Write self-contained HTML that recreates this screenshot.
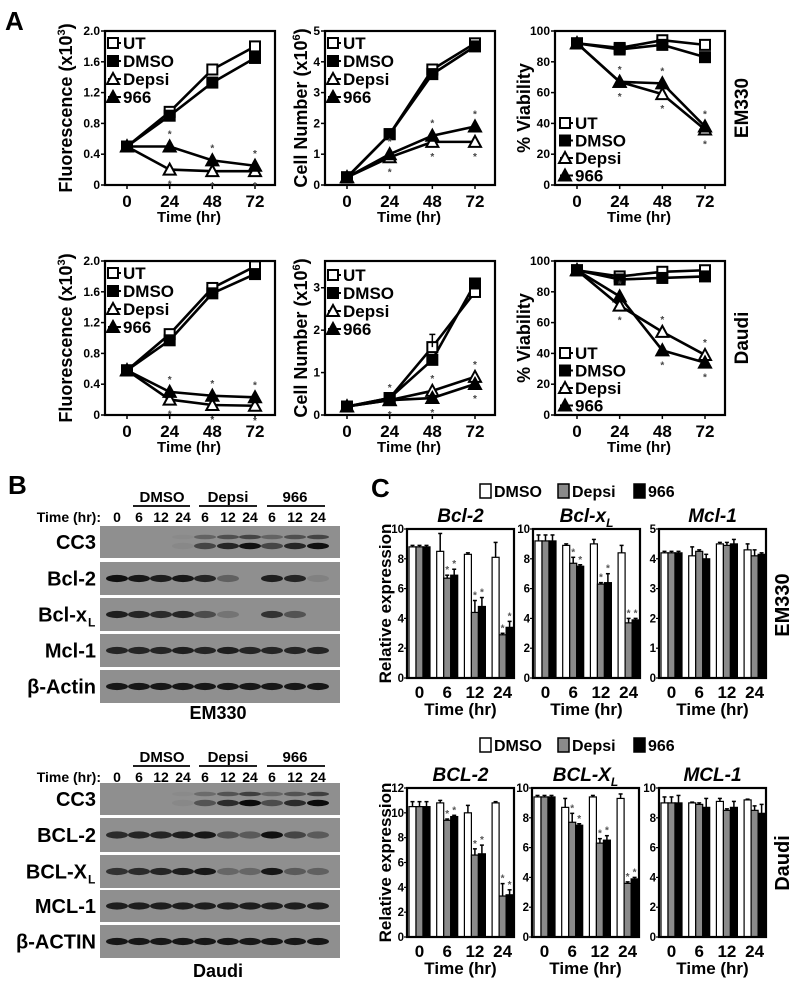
<!DOCTYPE html>
<html><head><meta charset="utf-8"><style>
body{margin:0;background:#fff}
svg{display:block;font-family:"Liberation Sans",Arial,sans-serif;font-weight:bold}
</style></head><body>
<svg id="fig" width="800" height="987" viewBox="0 0 800 987" xmlns="http://www.w3.org/2000/svg">
<text x="5" y="30" font-size="26">A</text>
<text x="8" y="494" font-size="26">B</text>
<text x="371" y="497" font-size="26">C</text>
</svg>
<script>
// ---------- Panel A data ----------
const timeHours = [0, 24, 48, 72];
const seriesNames = ["UT", "DMSO", "Depsi", "966"];
// EM330
const fluoEM_UT = [0.5, 0.95, 1.5, 1.8];
const fluoEM_DMSO = [0.5, 0.9, 1.33, 1.65];
const fluoEM_Depsi = [0.5, 0.2, 0.18, 0.18];
const fluoEM_966 = [0.5, 0.5, 0.32, 0.25];
const cellEM_UT = [0.25, 1.65, 3.75, 4.6];
const cellEM_DMSO = [0.25, 1.65, 3.6, 4.5];
const cellEM_Depsi = [0.25, 0.9, 1.4, 1.4];
const cellEM_966 = [0.25, 1.0, 1.6, 1.9];
const viaEM_UT = [92, 89, 94, 91];
const viaEM_DMSO = [92, 88, 91, 83];
const viaEM_Depsi = [92, 67, 59, 36];
const viaEM_966 = [92, 67, 66, 38];
// Daudi
const fluoDA_UT = [0.58, 1.05, 1.65, 1.93];
const fluoDA_DMSO = [0.58, 0.97, 1.58, 1.83];
const fluoDA_Depsi = [0.58, 0.2, 0.13, 0.12];
const fluoDA_966 = [0.58, 0.3, 0.25, 0.23];
const cellDA_UT = [0.2, 0.4, 1.6, 2.9];
const cellDA_DMSO = [0.2, 0.4, 1.3, 3.1];
const cellDA_Depsi = [0.2, 0.35, 0.57, 0.9];
const cellDA_966 = [0.2, 0.35, 0.4, 0.73];
const viaDA_UT = [94, 90, 93, 94];
const viaDA_DMSO = [94, 88, 89, 90];
const viaDA_Depsi = [94, 71, 54, 39];
const viaDA_966 = [94, 77, 42, 34];
const fluoTicks = [0, 0.4, 0.8, 1.2, 1.6, 2.0];
const fluoTickLabels = ["0", "0.4", "0.8", "1.2", "1.6", "2.0"];
const cellEMTicks = [0, 1, 2, 3, 4, 5];
const cellDATicks = [0, 1, 2, 3];
const viaTicks = [0, 20, 40, 60, 80, 100];

// ---------- Panel B data (band intensity 0-1 per lane) ----------
const laneLabels = ["0", "6", "12", "24", "6", "12", "24", "6", "12", "24"];
const emCC3 = [0, 0, 0, 0.05, 0.55, 0.8, 0.95, 0.55, 0.8, 0.95];
const emBcl2 = [0.95, 0.9, 0.85, 0.9, 0.8, 0.35, 0, 0.85, 0.8, 0.1];
const emBclxl = [0.85, 0.8, 0.75, 0.8, 0.5, 0.2, 0, 0.7, 0.45, 0];
const emMcl1 = [0.8, 0.8, 0.8, 0.85, 0.8, 0.85, 0.8, 0.8, 0.8, 0.8];
const emActin = [0.9, 0.9, 0.9, 0.9, 0.9, 0.9, 0.9, 0.9, 0.9, 0.9];
const daCC3 = [0, 0, 0, 0.05, 0.45, 0.75, 1, 0.5, 0.75, 1];
const daBcl2 = [0.75, 0.8, 0.8, 0.85, 0.9, 0.5, 0.4, 0.95, 0.55, 0.4];
const daBclxl = [0.7, 0.75, 0.8, 0.85, 0.9, 0.3, 0.3, 0.9, 0.4, 0.35];
const daMcl1 = [0.85, 0.85, 0.85, 0.85, 0.85, 0.85, 0.85, 0.85, 0.85, 0.85];
const daActin = [0.9, 0.9, 0.9, 0.9, 0.9, 0.9, 0.9, 0.9, 0.9, 0.9];

// ---------- Panel C data ----------
const barTimes = ["0", "6", "12", "24"];
const bcl2EM_DMSO = [8.8, 8.5, 8.3, 8.1], bcl2EM_Depsi = [8.8, 6.7, 4.4, 2.9], bcl2EM_966 = [8.8, 6.9, 4.8, 3.4];
const bcl2EM_err = [[0.1, 0.1, 0.1], [1.2, 0.2, 0.4], [0.1, 0.8, 0.6], [1.0, 0.1, 0.4]];
const bclxEM_DMSO = [9.2, 8.9, 9.0, 8.4], bclxEM_Depsi = [9.2, 7.7, 6.3, 3.7], bclxEM_966 = [9.2, 7.5, 6.4, 3.9];
const bclxEM_err = [[0.4, 0.4, 0.4], [0.1, 0.4, 0.1], [0.3, 0.1, 0.6], [0.5, 0.3, 0.1]];
const mclEM_DMSO = [4.2, 4.1, 4.5, 4.3], mclEM_Depsi = [4.2, 4.25, 4.45, 4.1], mclEM_966 = [4.2, 4.0, 4.5, 4.15];
const mclEM_err = [[0.05, 0.05, 0.05], [0.3, 0.05, 0.15], [0.05, 0.1, 0.15], [0.2, 0.2, 0.05]];
const bcl2DA_DMSO = [10.5, 10.8, 10.0, 10.8], bcl2DA_Depsi = [10.5, 9.4, 6.6, 3.3], bcl2DA_966 = [10.5, 9.7, 6.7, 3.4];
const bcl2DA_err = [[0.4, 0.4, 0.4], [0.2, 0.1, 0.1], [0.6, 0.5, 0.7], [0.1, 1.0, 0.4]];
const bclxDA_DMSO = [9.4, 8.7, 9.4, 9.3], bclxDA_Depsi = [9.4, 7.7, 6.3, 3.6], bclxDA_966 = [9.4, 7.5, 6.5, 3.9];
const bclxDA_err = [[0.1, 0.1, 0.1], [0.6, 0.6, 0.1], [0.1, 0.3, 0.3], [0.3, 0.1, 0.1]];
const mclDA_DMSO = [9.0, 9.0, 9.1, 9.2], mclDA_Depsi = [9.0, 8.9, 8.5, 8.5], mclDA_966 = [9.0, 8.7, 8.7, 8.3];
const mclDA_err = [[0.4, 0.4, 0.5], [0.05, 0.1, 0.6], [0.2, 0.1, 0.4], [0.05, 0.3, 0.6]];
const sigEM_bcl2 = [false, true, true, true], sigEM_bclx = [false, true, true, true];
const sigDA_bcl2 = [false, true, true, true], sigDA_bclx = [false, true, true, true];

const NS = "http://www.w3.org/2000/svg";
const svg = document.getElementById("fig");
function mk(tag, attrs, parent, txt) {
  const e = document.createElementNS(NS, tag);
  for (const k in attrs) e.setAttribute(k, attrs[k]);
  if (txt !== undefined) e.textContent = txt;
  (parent || svg).appendChild(e);
  return e;
}

// ---------- line charts ----------
function marker(g, kind, x, y) {
  let m;
  if (kind === 0 || kind === 1) {
    m = mk("rect", {x: x - 5, y: y - 5, width: 10, height: 10, fill: kind ? "#000" : "#fff", stroke: "#000", "stroke-width": 2}, g);
  } else {
    m = mk("polygon", {points: `${x},${y - 6} ${x + 6},${y + 5} ${x - 6},${y + 5}`, fill: kind === 3 ? "#000" : "#fff", stroke: "#000", "stroke-width": 2}, g);
  }
  
  
}
function legendEntry(g, kind, x, y) {
  const lg = mk("g", {}, g);
  
  
  mk("line", {x1: x - 3, y1: y, x2: x + 10, y2: y, stroke: "#000", "stroke-width": 2}, lg);
  marker(lg, kind, x + 2, y);
  mk("text", {x: x + 12, y: y + 6, "font-size": 17}, lg, seriesNames[kind]);
}
function lineChart(name, L, T, yMax, ticks, tickLabels, series, title, titleSup, titleX, legX, legY, legStep) {
  const R = L + 170, B = T + 154;
  const g = mk("g", {});
  
  
  const xs = t => L + 22 + t / 72 * 128;
  const ys = v => B - v / yMax * (B - T);
  const box = mk("rect", {x: L, y: T, width: 170, height: 154, fill: "none", stroke: "#000", "stroke-width": 2.2}, g);
  
  
  ticks.forEach((v, i) => {
    mk("line", {x1: L - 4, y1: ys(v), x2: L, y2: ys(v), stroke: "#000", "stroke-width": 1.5}, g);
    const t = mk("text", {x: L - 5, y: ys(v) + 4, "font-size": 12, "text-anchor": "end"}, g, tickLabels[i]);
    
    
  });
  timeHours.forEach(t => {
    mk("line", {x1: xs(t), y1: B, x2: xs(t), y2: B + 4, stroke: "#000", "stroke-width": 1.5}, g);
    const tx = mk("text", {x: xs(t), y: B + 22, "font-size": 17, "text-anchor": "middle"}, g, String(t));
    
    
  });
  const xt = mk("text", {x: L + 84, y: B + 37, "font-size": 15, "text-anchor": "middle"}, g, "Time (hr)");
  
  
  const yt = mk("text", {x: 0, y: 0, "font-size": 18, "text-anchor": "middle", transform: `translate(${titleX},${(T + B) / 2}) rotate(-90)`}, g);
  
  
  yt.appendChild(document.createTextNode(title));
  if (titleSup) {
    yt.appendChild(document.createTextNode(" (x10"));
    mk("tspan", {"font-size": 11, dy: -7}, yt, titleSup);
    mk("tspan", {dy: 7}, yt, ")");
  }
  series.forEach((vals, k) => {
    const pts = vals.map((v, i) => `${xs(timeHours[i])},${ys(v)}`).join(" ");
    const pl = mk("polyline", {points: pts, fill: "none", stroke: "#000", "stroke-width": 2.6}, g);
    
    
  });
  series.forEach((vals, k) => vals.forEach((v, i) => marker(g, k, xs(timeHours[i]), ys(v))));
  for (let i = 1; i < 4; i++) {
    const hi = Math.max(series[2][i], series[3][i]), lo = Math.min(series[2][i], series[3][i]);
    mk("text", {x: xs(timeHours[i]), y: ys(hi) - 9, "font-size": 10, fill: "#444", "text-anchor": "middle"}, g, "*");
    mk("text", {x: xs(timeHours[i]), y: ys(lo) + 18, "font-size": 10, fill: "#444", "text-anchor": "middle"}, g, "*");
  }
  seriesNames.forEach((n, k) => legendEntry(g, k, legX, legY + k * legStep));
}
const sEM = [[fluoEM_UT, fluoEM_DMSO, fluoEM_Depsi, fluoEM_966], [cellEM_UT, cellEM_DMSO, cellEM_Depsi, cellEM_966], [viaEM_UT, viaEM_DMSO, viaEM_Depsi, viaEM_966]];
const sDA = [[fluoDA_UT, fluoDA_DMSO, fluoDA_Depsi, fluoDA_966], [cellDA_UT, cellDA_DMSO, cellDA_Depsi, cellDA_966], [viaDA_UT, viaDA_DMSO, viaDA_Depsi, viaDA_966]];
lineChart("fluorescence-chart-em330", 105, 31, 2.0, fluoTicks, fluoTickLabels, sEM[0], "Fluorescence", "3", 72, 111, 43, 18);
lineChart("cell-number-chart-em330", 325, 31, 5, cellEMTicks, cellEMTicks.map(String), sEM[1], "Cell Number", "6", 307, 331, 43, 18);
lineChart("viability-chart-em330", 555, 31, 100, viaTicks, viaTicks.map(String), sEM[2], "% Viability", null, 530, 563, 123, 17.5);
lineChart("fluorescence-chart-daudi", 105, 261, 2.0, fluoTicks, fluoTickLabels, sDA[0], "Fluorescence", "3", 72, 111, 273, 18);
lineChart("cell-number-chart-daudi", 325, 261, 3.63, cellDATicks, cellDATicks.map(String), sDA[1], "Cell Number", "6", 307, 331, 275, 18);
lineChart("viability-chart-daudi", 555, 261, 100, viaTicks, viaTicks.map(String), sDA[2], "% Viability", null, 530, 563, 353, 17.5);
(function(){ const ys = v => 415 - v / 3.63 * 154; const x = 325 + 22 + 48 / 72 * 128;
  mk("line", {x1: x, y1: ys(cellDA_UT[2]), x2: x, y2: ys(cellDA_UT[2] + 0.3), stroke: "#000", "stroke-width": 1.5});
  mk("line", {x1: x - 3, y1: ys(cellDA_UT[2] + 0.3), x2: x + 3, y2: ys(cellDA_UT[2] + 0.3), stroke: "#000", "stroke-width": 1.5}); })();
[["EM330", 108], ["Daudi", 338]].forEach(([t, y]) => {
  const s = mk("text", {x: 0, y: 0, "font-size": 19, "text-anchor": "middle", transform: `translate(748,${y}) rotate(-90)`}, svg, t);
  
  
});

// ---------- Panel B blots ----------
const laneX = [117, 139, 161, 183, 205, 228, 250, 272, 295, 318];
function blot(name, headY, rows, labelY, cellName) {
  const g = mk("g", {});
  
  
  [["DMSO", 162, 133, 190], ["Depsi", 228, 199, 257], ["966", 295, 267, 325]].forEach(([t, cx, a, b]) => {
    const h = mk("text", {x: cx, y: headY, "font-size": 15, "text-anchor": "middle"}, g, t);
    
    
    mk("line", {x1: a, y1: headY + 4, x2: b, y2: headY + 4, stroke: "#000", "stroke-width": 1.8}, g);
  });
  mk("text", {x: 101, y: headY + 20, "font-size": 14, "text-anchor": "end"}, g, "Time (hr):");
  laneLabels.forEach((l, i) => {
    const t = mk("text", {x: laneX[i], y: headY + 20, "font-size": 14, "text-anchor": "middle"}, g, l);
    
    
  });
  rows.forEach(r => {
    const [label, sub, y0, y1, vals, cc3] = r;
    const st = mk("rect", {x: 100, y: y0, width: 240, height: y1 - y0, fill: "#8f8f8f"}, g);
    
    
    const lt = mk("text", {x: sub ? 87 : 96, y: (y0 + y1) / 2 + 7, "font-size": 20, "text-anchor": "end"}, g, label);
    
    
    if (sub) mk("text", {x: 88, y: (y0 + y1) / 2 + 12, "font-size": 12}, g, sub);
    const cy = (y0 + y1) / 2;
    vals.forEach((v, i) => {
      if (v <= 0) return;
      const bands = cc3 ? [[cy + 4, 3.2, v], [cy - 5, 2.3, v * 0.6]] : [[cy, 3.6, v]];
      bands.forEach(([by, ry, o]) => {
        const b = mk("ellipse", {cx: laneX[i], cy: by, rx: 11, ry: ry, fill: "#0a0a0a", opacity: Math.min(1, o)}, g);
        
        
      });
    });
  });
  const c = mk("text", {x: 218, y: labelY, "font-size": 18, "text-anchor": "middle"}, g, cellName);
  
  
}
blot("western-blot-em330", 502, [["CC3", null, 526, 558, emCC3, true], ["Bcl-2", null, 562, 595, emBcl2], ["Bcl-x", "L", 598, 631, emBclxl], ["Mcl-1", null, 634, 667, emMcl1], ["β-Actin", null, 670, 703, emActin]], 719, "EM330");
blot("western-blot-daudi", 762, [["CC3", null, 783, 815, daCC3, true], ["BCL-2", null, 818, 852, daBcl2], ["BCL-X", "L", 855, 888, daBclxl], ["MCL-1", null, 890, 922, daMcl1], ["β-ACTIN", null, 925, 958, daActin]], 977, "Daudi");

// ---------- Panel C bar charts ----------
const barFills = ["#fff", "#8a8a8a", "#000"];
function barLegend(y) {
  const g = mk("g", {});
  
  
  [["DMSO", 480], ["Depsi", 558], ["966", 634]].forEach(([t, x], k) => {
    const e = mk("g", {}, g);
    
    
    mk("rect", {x: x, y: y - 7, width: 11, height: 14, fill: barFills[k], stroke: "#000", "stroke-width": 1.5}, e);
    mk("text", {x: x + 14, y: y + 6, "font-size": 16}, e, t);
  });
}
function barChart(name, L, T, B, yMax, step, title, sub, d, dp, n9, err, sig, showY) {
  const R = L + 107;
  const g = mk("g", {});
  
  
  const ys = v => B - v / yMax * (B - T);
  const tt = mk("text", {x: (L + R) / 2, y: T - 7, "font-size": 19, "font-style": "italic", "text-anchor": "middle"}, g, title);
  
  
  if (sub) mk("tspan", {"font-size": 12, dy: 5}, tt, sub);
  for (let v = 0; v <= yMax + 1e-9; v += step) {
    mk("line", {x1: L - 3, y1: ys(v), x2: L, y2: ys(v), stroke: "#000", "stroke-width": 1.2}, g);
    const t = mk("text", {x: L - 3, y: ys(v) + 4, "font-size": 11.5, "text-anchor": "end"}, g, String(v));
    
    
  }
  const sets = [d, dp, n9];
  barTimes.forEach((lab, i) => {
    const gx = L + 2 + i * 27.7;
    sets.forEach((vals, k) => {
      const x = gx + k * 7;
      const b = mk("rect", {x: x, y: ys(vals[i]), width: 7, height: B - ys(vals[i]), fill: barFills[k], stroke: "#000", "stroke-width": 1.2}, g);
      
      
      const e = err[i][k], top = ys(vals[i] + e);
      mk("line", {x1: x + 3.5, y1: ys(vals[i]), x2: x + 3.5, y2: top, stroke: "#000", "stroke-width": 1.5}, g);
      mk("line", {x1: x + 1.5, y1: top, x2: x + 5.5, y2: top, stroke: "#000", "stroke-width": 1.5}, g);
      if (k > 0 && sig[i]) mk("text", {x: x + 3.5, y: top - 2, "font-size": 10, fill: "#555", "text-anchor": "middle"}, g, "*");
    });
    const tl = mk("text", {x: gx + 10.5, y: B + 20, "font-size": 17, "text-anchor": "middle"}, g, lab);
    
    
  });
  mk("rect", {x: L, y: T, width: 107, height: B - T, fill: "none", stroke: "#000", "stroke-width": 2.2}, g);
  const xt = mk("text", {x: (L + R) / 2, y: B + 37, "font-size": 17, "text-anchor": "middle"}, g, "Time (hr)");
  
  
  if (showY) {
    const yt = mk("text", {x: 0, y: 0, "font-size": 17, "text-anchor": "middle", transform: `translate(391,${(T + B) / 2}) rotate(-90)`}, g, "Relative expression");
    
    
  }
}
const noSig = [false, false, false, false];
barLegend(491);
barChart("bcl2-chart-em330", 407, 529, 678, 10, 2, "Bcl-2", null, bcl2EM_DMSO, bcl2EM_Depsi, bcl2EM_966, bcl2EM_err, sigEM_bcl2, true);
barChart("bclxl-chart-em330", 533, 529, 678, 10, 2, "Bcl-x", "L", bclxEM_DMSO, bclxEM_Depsi, bclxEM_966, bclxEM_err, sigEM_bclx, false);
barChart("mcl1-chart-em330", 659, 529, 678, 5, 1, "Mcl-1", null, mclEM_DMSO, mclEM_Depsi, mclEM_966, mclEM_err, noSig, false);
barLegend(745);
barChart("bcl2-chart-daudi", 407, 788, 937, 12, 2, "BCL-2", null, bcl2DA_DMSO, bcl2DA_Depsi, bcl2DA_966, bcl2DA_err, sigDA_bcl2, true);
barChart("bclxl-chart-daudi", 532, 788, 937, 10, 2, "BCL-X", "L", bclxDA_DMSO, bclxDA_Depsi, bclxDA_966, bclxDA_err, sigDA_bclx, false);
barChart("mcl1-chart-daudi", 659, 788, 937, 10, 2, "MCL-1", null, mclDA_DMSO, mclDA_Depsi, mclDA_966, mclDA_err, noSig, false);
[["EM330", 605], ["Daudi", 863]].forEach(([t, y]) => {
  const s = mk("text", {x: 0, y: 0, "font-size": 20, "text-anchor": "middle", transform: `translate(789,${y}) rotate(-90)`}, svg, t);
  
  
});
</script>
</body></html>
